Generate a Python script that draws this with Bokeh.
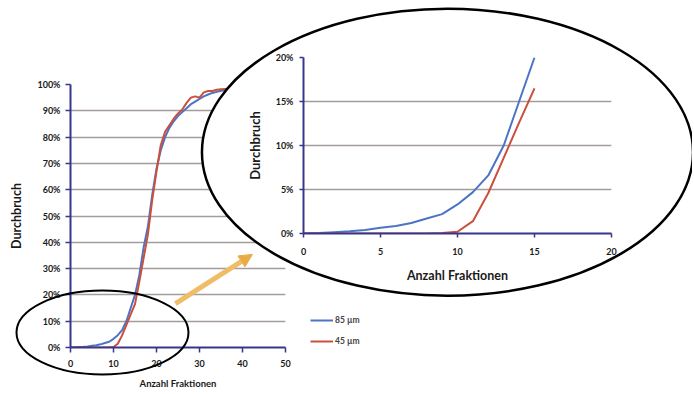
from bokeh.plotting import figure
from bokeh.models import (Range1d, PrintfTickFormatter, FixedTicker, Legend,
                          LegendItem, Arrow, NormalHead)
from bokeh.embed import file_html
from bokeh.resources import INLINE

# ---------------- data ----------------
fractions = list(range(0, 41))
blue_85 = [0, 0.05, 0.15, 0.25, 0.4, 0.65, 0.85, 1.2, 1.7, 2.2,
           3.3, 4.7, 6.6, 10.0, 15.0, 20.0, 27.5, 38, 46, 58,
           68, 75, 80, 83.5, 86, 88, 89.5, 91, 92.5, 93.5,
           94.5, 95.5, 96.2, 96.8, 97.2, 97.6, 97.8, 98, 98.2, 98.3, 98.4]
red_45 = [0, 0, 0, 0, 0, 0, 0, 0, 0, 0.05,
          0.2, 1.4, 4.6, 8.6, 12.6, 16.5, 25, 34, 43, 56,
          67, 77, 82, 84.5, 87, 89, 90.5, 93, 95, 95.5,
          95, 97, 97.5, 97.5, 98, 98.2, 98.3, 98.4, 98.5, 98.5, 98.6]
series_names = ["85 µm", "45 µm"]
main_x_ticks = [0, 10, 20, 30, 40, 50]
main_y_ticks = list(range(0, 101, 10))
inset_x_ticks = [0, 5, 10, 15, 20]
inset_y_ticks = [0, 5, 10, 15, 20]
inset_last_fraction = 15

# ---------------- style / layout ----------------
W, H = 692, 392
FONT = "Lato"
BLUE = "#4d74c4"
RED = "#c9503e"
AXIS = "#36368a"
GRID = "#a49b9b"

# main frame (canvas px)
FL, FT, FW, FH = 70, 84, 215, 263
# inset frame (canvas px)
IL, IT, IW, IH = 303, 57, 308, 176


def style_axes(fig, tick_size, title_size, tick_out):
    for ax in fig.axis:
        ax.axis_line_color = AXIS
        ax.axis_line_width = 2
        ax.major_tick_line_color = AXIS
        ax.major_tick_line_width = 1.5
        ax.major_tick_out = tick_out
        ax.major_tick_in = 0
        ax.minor_tick_line_color = None
        ax.major_label_text_font = FONT
        ax.major_label_text_font_style = "bold"
        ax.major_label_text_font_size = tick_size
        ax.major_label_text_color = "#1a1a1a"
        ax.axis_label_text_font = FONT
        ax.axis_label_text_font_style = "bold"
        ax.axis_label_text_font_size = title_size
        ax.axis_label_text_color = "#1a1a1a"


# ---------------- main chart ----------------
p = figure(frame_width=FW, frame_height=FH,
           min_border_left=FL, min_border_top=FT,
           min_border_right=W - FL - FW, min_border_bottom=H - FT - FH,
           x_range=Range1d(0, 50), y_range=Range1d(0, 100),
           output_backend="svg", toolbar_location=None, tools="")
p.outline_line_color = None
p.background_fill_color = "white"
p.border_fill_color = "white"
p.xgrid.visible = False
p.ygrid.ticker = FixedTicker(ticks=main_y_ticks)
p.ygrid.grid_line_color = GRID
p.ygrid.grid_line_width = 1.5
p.xaxis.ticker = FixedTicker(ticks=main_x_ticks)
p.yaxis.ticker = FixedTicker(ticks=main_y_ticks)
p.yaxis.formatter = PrintfTickFormatter(format="%d%%")
p.xaxis.axis_label = "Anzahl Fraktionen"
p.yaxis.axis_label = "Durchbruch"
style_axes(p, "9px", "9.5px", 5)
p.yaxis.axis_label_text_font_size = "12.5px"
p.xaxis.major_label_standoff = 7
p.yaxis.major_label_standoff = 5
p.xaxis.axis_label_standoff = 8
p.yaxis.axis_label_standoff = 10

rb = p.line(fractions, blue_85, line_color=BLUE, line_width=2)
rr = p.line(fractions, red_45, line_color=RED, line_width=2)

legend = Legend(items=[LegendItem(label=series_names[0], renderers=[rb]),
                       LegendItem(label=series_names[1], renderers=[rr])],
                location=(25, 0))
legend.background_fill_alpha = 0
legend.border_line_alpha = 0
legend.padding = 0
legend.margin = 0
legend.spacing = 9
legend.glyph_width = 23
legend.glyph_height = 12
legend.label_height = 12
legend.label_standoff = 2
legend.label_text_font = FONT
legend.label_text_font_style = "bold"
legend.label_text_font_size = "8.5px"
p.add_layout(legend, "right")

# ---------------- decoration layer (same data mapping as main chart) ----------------
sx = FW / 50.0
sy = FH / 100.0
d = figure(width=W, height=H, min_border=0,
           x_range=Range1d(-FL / sx, (W - FL) / sx),
           y_range=Range1d(-(H - FT - FH) / sy, (FT + FH) / sy),
           x_axis_type=None, y_axis_type=None,
           output_backend="svg", toolbar_location=None, tools="",
           margin=(-H, 0, 0, 0))
d.grid.visible = False
d.outline_line_color = None
d.background_fill_alpha = 0
d.border_fill_alpha = 0

# highlight ellipse around the region that is enlarged
d.ellipse(x=7.44, y=5.7, width=40, height=31.9, fill_color=None,
          line_color="black", line_width=2)
# arrow pointing to the enlargement
d.add_layout(Arrow(x_start=24.4, y_start=16.7, x_end=42.3, y_end=35.4,
                   line_color="#eebd68", line_width=5,
                   end=NormalHead(size=13, fill_color="#eaaa45",
                                  line_color="#eaaa45")))
# large white ellipse holding the enlargement
d.ellipse(x=87.67, y=74.26, width=114.2, height=109.1, fill_color="white",
          line_color="black", line_width=2.5)

# ---------------- inset (enlarged start of the curves) ----------------
q = figure(frame_width=IW, frame_height=IH,
           min_border_left=IL, min_border_top=IT,
           min_border_right=W - IL - IW, min_border_bottom=H - IT - IH,
           x_range=Range1d(0, 20), y_range=Range1d(0, 20),
           output_backend="svg", toolbar_location=None, tools="",
           margin=(-H, 0, 0, 0))
q.outline_line_color = None
q.background_fill_alpha = 0
q.border_fill_alpha = 0
q.xgrid.visible = False
q.ygrid.ticker = FixedTicker(ticks=inset_y_ticks)
q.ygrid.grid_line_color = GRID
q.ygrid.grid_line_width = 1.5
q.xaxis.ticker = FixedTicker(ticks=inset_x_ticks)
q.yaxis.ticker = FixedTicker(ticks=inset_y_ticks)
q.yaxis.formatter = PrintfTickFormatter(format="%d%%")
q.xaxis.axis_label = "Anzahl Fraktionen"
q.yaxis.axis_label = "Durchbruch"
style_axes(q, "9px", "12.5px", 4)
q.yaxis.axis_label_text_font_size = "13px"
q.xaxis.major_label_standoff = 10
q.yaxis.major_label_standoff = 6
q.xaxis.axis_label_standoff = 10
q.yaxis.axis_label_standoff = 10

n = inset_last_fraction + 1
q.line(fractions[:n], blue_85[:n], line_color=BLUE, line_width=2)
q.line(fractions[:n], red_45[:n], line_color=RED, line_width=2)

open("out.html", "w").write(file_html([p, d, q], INLINE))
